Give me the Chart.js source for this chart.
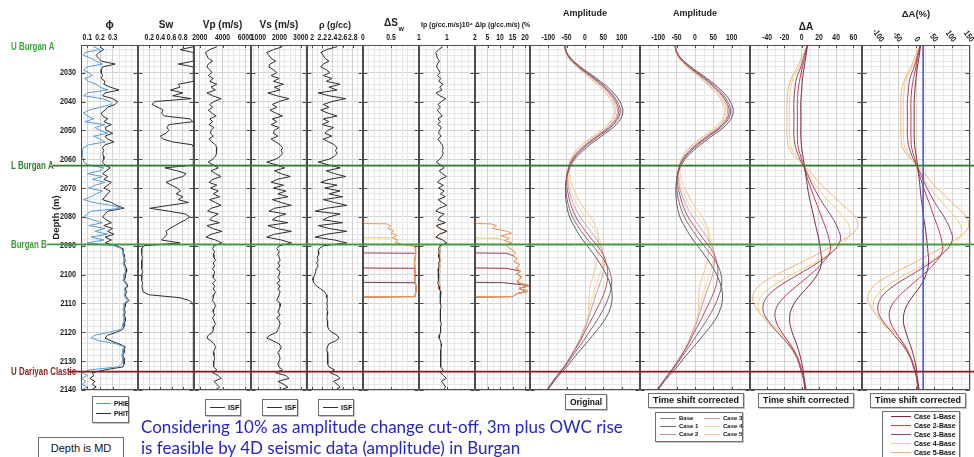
<!DOCTYPE html>
<html>
<head>
<meta charset="utf-8">
<script src="https://cdn.jsdelivr.net/npm/chart.js@4.4.1/dist/chart.umd.min.js"></script>
<style>
  body { margin: 0; background: #fff; }
  #wrap { position: relative; width: 974px; height: 457px; overflow: hidden;
          font-family: "Liberation Sans", Arial, sans-serif; }
  #logs { position: absolute; left: 0; top: 0; }
  .box { position: absolute; box-sizing: border-box; background: #fff; border: 1px solid #6f6f6f;
         box-shadow: 1px 1px 0 #c4c4c4; font-weight: bold; color: #111; white-space: nowrap; }
  .row { position: absolute; display: flex; align-items: center; }
  .ln { display: inline-block; height: 1px; margin-right: 3px; }
  .cap { text-align: center; font-size: 9px; line-height: 13px; }
  .note { position: absolute; left: 141px; top: 416px; font-family: Lato, "Open Sans", sans-serif;
          font-size: 17px; line-height: 21px; color: #2525c4; white-space: nowrap; }
  .md { font-weight: normal; font-size: 11px; line-height: 20px; text-align: center; box-shadow: none; }
</style>
</head>
<body>
<div id="wrap">
  <canvas id="logs" width="974" height="457"></canvas>

  <div class="box" style="left:92px;top:396px;width:37px;height:27px;font-size:6.5px">
    <div class="row" style="left:3px;top:3px"><span class="ln" style="width:15px;background:#5b9bd0"></span>PHIE</div>
    <div class="row" style="left:3px;top:13px"><span class="ln" style="width:15px;background:#333"></span>PHIT</div>
  </div>
  <div class="box" style="left:205px;top:399px;width:36px;height:17px;font-size:7.5px">
    <div class="row" style="left:4px;top:3px"><span class="ln" style="width:15px;background:#333"></span>ISF</div>
  </div>
  <div class="box" style="left:262px;top:399px;width:36px;height:17px;font-size:7.5px">
    <div class="row" style="left:4px;top:3px"><span class="ln" style="width:15px;background:#333"></span>ISF</div>
  </div>
  <div class="box" style="left:318px;top:399px;width:36px;height:17px;font-size:7.5px">
    <div class="row" style="left:4px;top:3px"><span class="ln" style="width:15px;background:#333"></span>ISF</div>
  </div>

  <div class="box cap" style="left:565px;top:394px;width:42px;height:16px;font-size:8.5px;line-height:14px">Original</div>
  <div class="box cap" style="left:648px;top:393px;width:96px;height:15px">Time shift corrected</div>
  <div class="box cap" style="left:758px;top:393px;width:96px;height:15px">Time shift corrected</div>
  <div class="box cap" style="left:870px;top:393px;width:96px;height:15px">Time shift corrected</div>

  <div class="box" style="left:655px;top:412px;width:88px;height:30px;font-size:6px">
    <div class="row" style="left:4px;top:2px"><span class="ln" style="width:16px;background:#8a7a8c"></span>Base</div>
    <div class="row" style="left:4px;top:10px"><span class="ln" style="width:16px;background:#85627f"></span>Case 1</div>
    <div class="row" style="left:4px;top:18px"><span class="ln" style="width:16px;background:#c98a9a"></span>Case 2</div>
    <div class="row" style="left:48px;top:2px"><span class="ln" style="width:16px;background:#c99aae"></span>Case 3</div>
    <div class="row" style="left:48px;top:10px"><span class="ln" style="width:16px;background:#eedb95"></span>Case 4</div>
    <div class="row" style="left:48px;top:18px"><span class="ln" style="width:16px;background:#f4c39d"></span>Case 5</div>
  </div>

  <div class="box" style="left:882px;top:411px;width:78px;height:52px;font-size:7px">
    <div class="row" style="left:8px;top:1px"><span class="ln" style="width:20px;background:#7a2946"></span>Case 1-Base</div>
    <div class="row" style="left:8px;top:10px"><span class="ln" style="width:20px;background:#c9374a"></span>Case 2-Base</div>
    <div class="row" style="left:8px;top:19px"><span class="ln" style="width:20px;background:#93476f"></span>Case 3-Base</div>
    <div class="row" style="left:8px;top:28px"><span class="ln" style="width:20px;background:#f0d37a"></span>Case 4-Base</div>
    <div class="row" style="left:8px;top:37px"><span class="ln" style="width:20px;background:#f2b27f"></span>Case 5-Base</div>
  </div>

  <div class="box md" style="left:38px;top:437px;width:86px;height:23px">Depth is MD</div>
  <div class="note">Considering 10% as amplitude change cut-off, 3m plus OWC rise<br>is feasible by 4D seismic data (amplitude) in Burgan</div>
</div>

<script>
// ---- depth axis ----
const DEPTH_MIN = 2020.4;
const DEPTH_MAX = 2140;
const DEPTH_TICKS = [2030, 2040, 2050, 2060, 2070, 2080, 2090, 2100, 2110, 2120, 2130, 2140];

// ---- formation tops ----
const TOP_NAMES = ['U Burgan A', 'L Burgan A', 'Burgan B', 'U Dariyan Clastic'];
const TOP_DEPTHS = [2020.9, 2062.2, 2089.5, 2133.6];

// ---- well logs, 1 m samples ----
const LOG_DEPTH = [
  2021, 2022, 2023, 2024, 2025, 2026, 2027, 2028, 2029, 2030,
  2031, 2032, 2033, 2034, 2035, 2036, 2037, 2038, 2039, 2040,
  2041, 2042, 2043, 2044, 2045, 2046, 2047, 2048, 2049, 2050,
  2051, 2052, 2053, 2054, 2055, 2056, 2057, 2058, 2059, 2060,
  2061, 2062, 2063, 2064, 2065, 2066, 2067, 2068, 2069, 2070,
  2071, 2072, 2073, 2074, 2075, 2076, 2077, 2078, 2079, 2080,
  2081, 2082, 2083, 2084, 2085, 2086, 2087, 2088, 2089, 2090,
  2091, 2092, 2093, 2094, 2095, 2096, 2097, 2098, 2099, 2100,
  2101, 2102, 2103, 2104, 2105, 2106, 2107, 2108, 2109, 2110,
  2111, 2112, 2113, 2114, 2115, 2116, 2117, 2118, 2119, 2120,
  2121, 2122, 2123, 2124, 2125, 2126, 2127, 2128, 2129, 2130,
  2131, 2132, 2133, 2134, 2135, 2136, 2137, 2138, 2139, 2140
];
const PHIT = [
  0.20, 0.23, 0.19, 0.17, 0.19, 0.21, 0.32, 0.22, 0.21, 0.21,
  0.22, 0.21, 0.24, 0.23, 0.28, 0.35, 0.24, 0.22, 0.30, 0.34,
  0.32, 0.26, 0.24, 0.21, 0.22, 0.26, 0.23, 0.29, 0.24, 0.25,
  0.30, 0.24, 0.26, 0.31, 0.24, 0.22, 0.23, 0.22, 0.23, 0.23,
  0.22, 0.24, 0.28, 0.25, 0.22, 0.26, 0.23, 0.29, 0.26, 0.23,
  0.28, 0.26, 0.24, 0.22, 0.29, 0.33, 0.39, 0.26, 0.24, 0.22,
  0.25, 0.29, 0.23, 0.30, 0.26, 0.31, 0.24, 0.29, 0.24, 0.33,
  0.38, 0.38, 0.39, 0.39, 0.40, 0.39, 0.40, 0.41, 0.41, 0.40,
  0.40, 0.39, 0.41, 0.42, 0.40, 0.41, 0.40, 0.41, 0.43, 0.40,
  0.40, 0.39, 0.40, 0.39, 0.40, 0.40, 0.39, 0.39, 0.38, 0.33,
  0.26, 0.24, 0.29, 0.35, 0.40, 0.39, 0.39, 0.38, 0.39, 0.39,
  0.39, 0.38, 0.24, 0.14, 0.15, 0.12, 0.16, 0.14, 0.17, 0.13
];
const PHIE = [
  0.15, 0.20, 0.08, 0.07, 0.13, 0.17, 0.22, 0.10, 0.07, 0.11,
  0.14, 0.08, 0.11, 0.17, 0.20, 0.26, 0.10, 0.07, 0.22, 0.28,
  0.29, 0.20, 0.11, 0.07, 0.10, 0.15, 0.08, 0.24, 0.16, 0.20,
  0.26, 0.15, 0.20, 0.24, 0.11, 0.07, 0.06, 0.06, 0.06, 0.07,
  0.07, 0.11, 0.23, 0.20, 0.10, 0.22, 0.14, 0.24, 0.16, 0.11,
  0.22, 0.17, 0.13, 0.07, 0.15, 0.29, 0.37, 0.13, 0.10, 0.07,
  0.14, 0.22, 0.11, 0.24, 0.16, 0.26, 0.13, 0.23, 0.10, 0.31,
  0.37, 0.38, 0.38, 0.39, 0.39, 0.38, 0.39, 0.40, 0.40, 0.39,
  0.39, 0.38, 0.40, 0.41, 0.39, 0.40, 0.39, 0.40, 0.42, 0.39,
  0.39, 0.38, 0.39, 0.38, 0.39, 0.39, 0.38, 0.38, 0.36, 0.27,
  0.16, 0.13, 0.20, 0.33, 0.39, 0.38, 0.38, 0.37, 0.38, 0.38,
  0.37, 0.34, 0.12, 0.06, 0.10, 0.05, 0.09, 0.06, 0.10, 0.05
];
const SW = [
  0.99, 0.75, 0.99, 0.99, 0.99, 0.99, 0.72, 0.99, 0.99, 0.99,
  0.99, 0.99, 0.99, 0.72, 0.75, 0.58, 0.80, 0.62, 0.95, 0.30,
  0.25, 0.36, 0.45, 0.42, 0.47, 0.93, 0.98, 0.55, 0.52, 0.55,
  0.50, 0.40, 0.45, 0.62, 0.97, 0.99, 0.99, 0.99, 0.99, 0.99,
  0.99, 0.99, 0.48, 0.70, 0.86, 0.80, 0.62, 0.50, 0.60, 0.70,
  0.76, 0.68, 0.80, 0.72, 0.90, 0.55, 0.21, 0.55, 0.85, 0.92,
  0.85, 0.75, 0.66, 0.57, 0.50, 0.52, 0.47, 0.42, 0.75, 0.10,
  0.07, 0.06, 0.07, 0.08, 0.07, 0.06, 0.07, 0.07, 0.08, 0.07,
  0.07, 0.06, 0.08, 0.07, 0.08, 0.09, 0.20, 0.75, 0.92, 0.98,
  0.99, 0.99, 0.99, 0.99, 0.99, 0.99, 0.99, 0.99, 0.99, 0.99,
  0.99, 0.99, 0.99, 0.99, 0.99, 0.99, 0.99, 0.99, 0.99, 0.99,
  0.99, 0.99, 0.99, 0.99, 0.99, 0.99, 0.99, 0.99, 0.99, 0.99
];
const VP = [
  3500, 2880, 2500, 2630, 2750, 3130, 2750, 2630, 2880, 3060,
  2750, 3190, 2880, 3500, 3000, 3380, 2630, 3130, 3880, 3250,
  2880, 3130, 2750, 3060, 3440, 2880, 3130, 2810, 3250, 3000,
  2940, 3190, 2810, 3060, 3380, 3500, 3440, 3500, 3380, 3130,
  2750, 3190, 3630, 3000, 3380, 3880, 3130, 2810, 3500, 2940,
  3630, 3190, 3750, 2880, 3380, 3880, 3000, 2690, 3630, 3130,
  2880, 3750, 2630, 3130, 3940, 3000, 2560, 3380, 3940, 3250,
  3130, 3310, 3190, 3250, 3380, 3190, 3310, 3130, 3310, 3250,
  3190, 3380, 3130, 3310, 3190, 3380, 3250, 3190, 3130, 3310,
  3380, 3250, 3190, 3310, 3130, 3250, 3380, 3250, 3190, 3130,
  2750, 2630, 3000, 3250, 3380, 3310, 3190, 3250, 3310, 3250,
  3190, 3250, 3500, 3130, 3630, 3880, 3250, 3500, 3750, 3380
];
const VS = [
  2140, 1710, 1390, 1500, 1600, 1820, 1550, 1500, 1710, 1870,
  1600, 1980, 1710, 2190, 1760, 2030, 1450, 1870, 2450, 1980,
  1660, 1870, 1550, 1820, 2140, 1660, 1870, 1600, 1980, 1760,
  1710, 1920, 1600, 1820, 2030, 2140, 2080, 2140, 2030, 1820,
  1390, 1870, 2240, 1760, 2080, 2510, 1870, 1600, 2190, 1710,
  2300, 1920, 2400, 1660, 2080, 2560, 1760, 1500, 2300, 1870,
  1660, 2400, 1450, 1870, 2560, 1760, 1390, 2080, 2560, 1980,
  1870, 1980, 1920, 1980, 2030, 1920, 2030, 1870, 2030, 1980,
  1920, 2030, 1870, 2030, 1920, 2030, 1980, 1920, 1870, 2030,
  2030, 1980, 1920, 2030, 1870, 1980, 2030, 1980, 1920, 1870,
  1550, 1390, 1710, 1980, 2080, 2030, 1920, 1980, 2030, 1980,
  1920, 1980, 2140, 1820, 2300, 2450, 1920, 2190, 2400, 2030
];
const RHO = [
  2.49, 2.28, 2.17, 2.22, 2.25, 2.33, 2.22, 2.17, 2.28, 2.35,
  2.22, 2.39, 2.28, 2.55, 2.33, 2.49, 2.12, 2.33, 2.66, 2.39,
  2.22, 2.33, 2.17, 2.31, 2.49, 2.22, 2.33, 2.20, 2.42, 2.31,
  2.25, 2.39, 2.22, 2.33, 2.44, 2.49, 2.46, 2.49, 2.44, 2.33,
  2.12, 2.33, 2.55, 2.28, 2.44, 2.66, 2.33, 2.17, 2.49, 2.25,
  2.55, 2.33, 2.60, 2.22, 2.44, 2.68, 2.28, 2.06, 2.55, 2.33,
  2.22, 2.60, 2.12, 2.33, 2.68, 2.28, 2.06, 2.44, 2.68, 2.22,
  2.14, 2.12, 2.13, 2.10, 2.12, 2.09, 2.12, 2.08, 2.07, 2.05,
  2.03, 2.02, 2.04, 2.09, 2.17, 2.25, 2.28, 2.29, 2.30, 2.29,
  2.30, 2.29, 2.31, 2.30, 2.29, 2.30, 2.31, 2.30, 2.33, 2.39,
  2.49, 2.53, 2.46, 2.33, 2.30, 2.29, 2.30, 2.31, 2.30, 2.31,
  2.31, 2.33, 2.44, 2.35, 2.49, 2.55, 2.42, 2.49, 2.55, 2.46
];
const IP = [
  0.85, 0.70, 0.60, 0.63, 0.66, 0.73, 0.66, 0.62, 0.70, 0.75,
  0.66, 0.78, 0.70, 0.86, 0.74, 0.82, 0.61, 0.74, 0.95, 0.80,
  0.68, 0.76, 0.65, 0.74, 0.83, 0.68, 0.76, 0.67, 0.80, 0.73,
  0.70, 0.79, 0.67, 0.75, 0.83, 0.86, 0.84, 0.86, 0.82, 0.74,
  0.62, 0.77, 0.90, 0.72, 0.83, 0.98, 0.76, 0.66, 0.87, 0.70,
  0.90, 0.77, 0.94, 0.68, 0.83, 0.99, 0.72, 0.60, 0.90, 0.75,
  0.68, 0.94, 0.61, 0.75, 0.99, 0.72, 0.60, 0.84, 0.99, 0.75,
  0.70, 0.72, 0.70, 0.71, 0.74, 0.70, 0.72, 0.68, 0.71, 0.69,
  0.68, 0.70, 0.67, 0.72, 0.72, 0.78, 0.76, 0.76, 0.75, 0.78,
  0.79, 0.77, 0.76, 0.78, 0.75, 0.77, 0.80, 0.77, 0.77, 0.77,
  0.73, 0.72, 0.77, 0.79, 0.80, 0.78, 0.76, 0.78, 0.78, 0.78,
  0.76, 0.78, 0.86, 0.76, 0.88, 0.97, 0.80, 0.88, 0.95, 0.85
];
// Ip after the largest OWC rise, over the flushed interval only
const IP_CASE_DEPTH = [
  2082, 2083, 2084, 2085, 2086, 2087, 2088, 2089, 2090, 2091, 2092, 2093, 2094, 2095,
  2096, 2097, 2098, 2099, 2100, 2101, 2102, 2103, 2104, 2105, 2106, 2107, 2108
];
const IP_CASE5 = [
  0.95, 0.63, 0.77, 1.00, 0.74, 0.62, 0.86, 1.00, 0.79, 0.75, 0.77, 0.74, 0.76, 0.79,
  0.74, 0.77, 0.73, 0.76, 0.73, 0.73, 0.75, 0.72, 0.77, 0.76, 0.80, 0.77, 0.76
];

// ---- change in water saturation per OWC-rise case ----
const DSW_DEPTH_C1 = [2020.4, 2102.7, 2102.8, 2105, 2107.6, 2107.7, 2140];
const DSW_C1 = [0, 0, 0.93, 0.95, 0.93, 0, 0];
const DSW_DEPTH_C2 = [2020.4, 2097.7, 2097.8, 2099, 2102, 2105, 2107.6, 2107.7, 2140];
const DSW_C2 = [0, 0, 0.93, 0.94, 0.93, 0.95, 0.93, 0, 0];
const DSW_DEPTH_C3 = [2020.4, 2092.5, 2092.6, 2096, 2099, 2102, 2105, 2107.6, 2107.7, 2140];
const DSW_C3 = [0, 0, 0.94, 0.92, 0.94, 0.93, 0.95, 0.93, 0, 0];
const DSW_DEPTH_C4 = [2020.4, 2087.2, 2087.3, 2088, 2088.8, 2089.5, 2090.2, 2093, 2096, 2099, 2102, 2105, 2107.6, 2107.7, 2140];
const DSW_C4 = [0, 0, 0.55, 0.62, 0.58, 0.68, 0.93, 0.94, 0.92, 0.94, 0.93, 0.95, 0.93, 0, 0];
const DSW_DEPTH_C5 = [2020.4, 2082.3, 2082.4, 2083.2, 2084, 2084.8, 2085.6, 2086.4, 2087.2, 2088, 2088.8, 2089.5, 2090.2, 2093, 2096, 2099, 2102, 2105, 2107.6, 2107.7, 2140];
const DSW_C5 = [0, 0, 0.42, 0.50, 0.44, 0.55, 0.50, 0.60, 0.53, 0.62, 0.58, 0.68, 0.93, 0.94, 0.92, 0.94, 0.93, 0.95, 0.93, 0, 0];

// ---- change in acoustic impedance (%) per case ----
const DIP_DEPTH_C5 = [2020.4, 2082.3, 2082.4, 2083, 2084, 2085, 2085.7, 2086.5, 2087.4, 2088.2, 2089, 2089.7, 2090.5, 2091.5, 2092.6, 2093.5, 2094.5, 2095.5, 2096.5, 2097.8, 2098.8, 2099.8, 2100.8, 2101.8, 2102.8, 2103.8, 2104.8, 2105.8, 2106.6, 2107.6, 2107.7, 2140];
const DIP_C5 = [0, 0, 6.3, 8.6, 7.0, 13.0, 14.7, 10.3, 13.8, 11.9, 14.6, 12.4, 13.2, 15.1, 16.2, 15.3, 16.8, 15.7, 17.8, 16.4, 18.1, 16.7, 18.6, 17.3, 17.1, 21.6, 17.6, 21.0, 16.7, 15.3, 0, 0];
const DIP_DEPTH_C4 = [2020.4, 2087.3, 2087.4, 2088.2, 2089, 2089.7, 2090.5, 2091.5, 2092.6, 2093.5, 2094.5, 2095.5, 2096.5, 2097.8, 2098.8, 2099.8, 2100.8, 2101.8, 2102.8, 2103.8, 2104.8, 2105.8, 2106.6, 2107.6, 2107.7, 2140];
const DIP_C4 = [0, 0, 8.8, 11.9, 14.6, 12.4, 13.2, 15.1, 16.2, 15.3, 16.8, 15.7, 17.8, 16.4, 18.1, 16.7, 18.6, 17.3, 17.1, 21.6, 17.6, 21.0, 16.7, 15.3, 0, 0];
const DIP_DEPTH_C3 = [2020.4, 2092.5, 2092.6, 2093.5, 2094.5, 2095.5, 2096.5, 2097.8, 2098.8, 2099.8, 2100.8, 2101.8, 2102.8, 2103.8, 2104.8, 2105.8, 2106.6, 2107.6, 2107.7, 2140];
const DIP_C3 = [0, 0, 12.7, 15.3, 16.8, 15.7, 17.8, 16.4, 18.1, 16.7, 18.6, 17.3, 17.1, 21.6, 17.6, 21.0, 16.7, 15.3, 0, 0];
const DIP_DEPTH_C2 = [2020.4, 2097.7, 2097.8, 2098.8, 2099.8, 2100.8, 2101.8, 2102.8, 2103.8, 2104.8, 2105.8, 2106.6, 2107.6, 2107.7, 2140];
const DIP_C2 = [0, 0, 12.5, 18.1, 16.7, 18.6, 17.3, 17.1, 21.6, 17.6, 21.0, 16.7, 15.3, 0, 0];
const DIP_DEPTH_C1 = [2020.4, 2102.7, 2102.8, 2103.8, 2104.8, 2105.8, 2106.6, 2107.6, 2107.7, 2140];
const DIP_C1 = [0, 0, 11.5, 21.6, 17.6, 21.0, 16.7, 15.3, 0, 0];

// ---- synthetic amplitude traces, 4 m samples ----
const AMP_DEPTH = [
  2020, 2024, 2028, 2032, 2036, 2040, 2044, 2048, 2052, 2056, 2060, 2064, 2068, 2072, 2076, 2080,
  2084, 2088, 2092, 2096, 2100, 2104, 2108, 2112, 2116, 2120, 2124, 2128, 2132, 2136, 2140
];
const AMP_BASE  = [-58, -45, -12, 32, 70, 95, 103, 85, 45, 4, -28, -45, -52, -53, -50, -42, -26, -6, 18, 40, 58, 70, 74, 68, 52, 28, 2, -25, -50, -78, -102];
const AMP_CASE1 = [-57, -46, -15, 27, 64, 88, 96, 78, 38, -2, -32, -47, -52, -51, -45, -34, -15, 8, 34, 57, 70, 72, 64, 50, 32, 11, -10, -33, -55, -81, -103];
const AMP_CASE2 = [-57, -47, -17, 24, 60, 84, 92, 74, 34, -6, -34, -47, -50, -46, -38, -25, -4, 20, 45, 58, 62, 58, 47, 32, 16, -1, -18, -37, -57, -82, -104];
const AMP_CASE3 = [-57, -48, -19, 20, 56, 80, 88, 70, 30, -9, -36, -46, -47, -41, -30, -13, 10, 33, 48, 52, 48, 38, 27, 17, 7, -6, -20, -38, -58, -82, -104];
const AMP_CASE4 = [-57, -49, -21, 16, 51, 75, 83, 65, 25, -14, -38, -45, -44, -35, -20, 0, 24, 40, 48, 48, 40, 30, 20, 12, 4, -7, -20, -38, -58, -82, -104];
const AMP_CASE5 = [-57, -50, -23, 14, 48, 72, 80, 62, 22, -17, -39, -42, -38, -25, -8, 14, 32, 36, 36, 32, 23, 14, 11, 10, 7, -3, -17, -37, -58, -82, -104];

// same traces after time-shift correction
const AMPT_BASE  = [-57, -44, -11, 33, 71, 96, 104, 86, 46, 5, -27, -44, -51, -52, -49, -41, -25, -5, 19, 41, 59, 71, 75, 69, 53, 29, 3, -24, -49, -77, -101];
const AMPT_CASE1 = [-56, -45, -14, 28, 65, 89, 97, 79, 39, -1, -31, -46, -50, -48, -41, -29, -10, 12, 37, 59, 71, 72, 63, 49, 31, 10, -11, -33, -55, -80, -102];
const AMPT_CASE2 = [-56, -46, -16, 25, 61, 85, 93, 75, 35, -5, -33, -46, -48, -42, -33, -19, 2, 25, 48, 60, 62, 57, 45, 30, 15, -2, -18, -37, -57, -81, -103];
const AMPT_CASE3 = [-56, -47, -18, 21, 57, 81, 89, 71, 31, -8, -35, -45, -44, -37, -24, -6, 16, 37, 51, 53, 48, 37, 26, 16, 6, -7, -20, -38, -58, -82, -104];
const AMPT_CASE4 = [-56, -48, -20, 17, 52, 76, 84, 66, 26, -13, -37, -44, -41, -30, -14, 7, 29, 43, 50, 48, 39, 29, 19, 11, 3, -8, -20, -38, -58, -82, -104];
const AMPT_CASE5 = [-56, -49, -22, 15, 49, 73, 81, 63, 23, -16, -38, -41, -35, -20, -2, 19, 35, 38, 37, 32, 22, 13, 10, 9, 6, -4, -17, -37, -58, -82, -104];

// amplitude difference, case minus base
const DA_CASE1 = [7, 5, 3, 1, 0, -1, -1, -1, -1, 0, 2, 4, 6, 8, 11, 14, 17, 20, 22, 23, 18, 8, -4, -12, -14, -11, -6, -2, 1, 3, 5];
const DA_CASE2 = [7, 4, 1, -2, -4, -5, -5, -5, -5, -4, 0, 4, 8, 13, 18, 23, 28, 32, 33, 24, 10, -6, -21, -30, -30, -23, -14, -6, -1, 2, 4];
const DA_CASE3 = [7, 3, -1, -6, -8, -9, -9, -9, -9, -7, -2, 5, 11, 18, 26, 35, 42, 45, 36, 18, -4, -26, -41, -45, -39, -28, -16, -7, -2, 2, 4];
const DA_CASE4 = [7, 2, -3, -10, -13, -14, -14, -14, -14, -12, -4, 6, 14, 24, 36, 48, 56, 52, 36, 14, -12, -34, -48, -50, -42, -29, -16, -7, -2, 2, 4];
const DA_CASE5 = [7, 1, -5, -12, -16, -17, -17, -17, -17, -15, -5, 9, 20, 34, 48, 62, 64, 48, 24, -2, -29, -50, -57, -52, -39, -25, -13, -6, -2, 2, 4];

// amplitude difference in percent
const DAP_CASE1 = [13, 9, 4, 0, -3, -5, -5, -5, -5, -3, 2, 6, 10, 13, 17, 21, 26, 30, 33, 35, 28, 12, -12, -30, -35, -28, -17, -7, 0, 4, 9];
const DAP_CASE2 = [13, 6, 0, -7, -12, -14, -14, -14, -14, -12, -3, 6, 16, 27, 39, 50, 62, 71, 73, 52, 20, -17, -51, -72, -72, -56, -35, -17, -5, 2, 6];
const DAP_CASE3 = [13, 4, -5, -17, -21, -24, -24, -24, -24, -19, -7, 9, 23, 39, 57, 78, 94, 101, 80, 39, -12, -63, -97, -106, -93, -67, -40, -19, -7, 2, 6];
const DAP_CASE4 = [13, 2, -10, -26, -33, -35, -35, -35, -35, -30, -12, 11, 29, 52, 80, 108, 126, 117, 80, 29, -30, -81, -113, -118, -99, -70, -40, -19, -7, 2, 6];
const DAP_CASE5 = [13, -1, -14, -30, -40, -42, -42, -42, -42, -37, -14, 18, 43, 75, 108, 140, 144, 108, 52, -7, -70, -118, -134, -122, -93, -60, -33, -17, -7, 2, 6];
const DAP_CUTOFF = 20;

// ---- track tick labels ----
const PHI_TICKS = [0.1, 0.2, 0.3];
const SW_TICKS = [0.2, 0.4, 0.6, 0.8];
const VP_TICKS = [2000, 4000, 6000];
const VS_TICKS = [1000, 2000, 3000];
const RHO_TICKS = [2, 2.2, 2.4, 2.6, 2.8];
const DSW_TICKS = [0, 0.5, 1];
const IP_TICKS = [1, 2];
const DIP_TICKS = [5, 10, 15, 20];
const AMP_TICKS = [-100, -50, 0, 50, 100];
const DA_TICKS = [-40, -20, 0, 20, 40, 60];
const DAP_TICKS = [-100, -50, 0, 50, 100, 150];

// ---- styling ----
const SANS = '"Liberation Sans", Arial, sans-serif';
const SQUEEZE = 0.8;              // horizontal squeeze for the narrow axis lettering
const INK = '#1b1b1b';
const LOG_INK = '#2e2e2e';
const PHIE_BLUE = '#5b9bd0';
const CASE_COLORS = ['#6e3a55', '#b8323f', '#9c3a5c', '#f0c850', '#e8955f'];
const AMP_COLORS = { base: '#5e5e5e', c1: '#85627f', c2: '#b4525e', c3: '#c99aae', c4: '#eedb95', c5: '#f4c39d' };
const DA_COLORS = ['#7a2946', '#c9374a', '#93476f', '#f0d37a', '#f2b27f'];
const TOP_COLORS = ['#3aa33a', '#2f7d32', '#3d9a3d', '#8b1d1d'];
const TOP_LINE_START = [null, 53, 47, 68];
const TRACK_IDS = ['xPhi', 'xSw', 'xVp', 'xVs', 'xRho', 'xDsw', 'xIp', 'xDip', 'xAmp', 'xAmpT', 'xDA', 'xDAP'];
const TRACK_LABELS = {};

function gridTicks(min, max, step, labels) {
  const out = [];
  const first = Math.ceil(min / step - 1e-9);
  const last = Math.floor(max / step + 1e-9);
  for (let k = first; k <= last; k++) out.push(+(k * step).toFixed(6));
  labels.forEach(v => { if (!out.some(t => Math.abs(t - v) < 1e-6)) out.push(v); });
  return out.sort((a, b) => a - b).map(value => ({ value }));
}
const isLabel = (v, labels) => labels.some(l => Math.abs(l - v) < 1e-6);

// top stacked axes are laid out highest weight first, so weight runs down left to right
function trackAxis(id, o) {
  TRACK_LABELS[id] = o.labels;
  return {
    type: 'linear', position: 'top', stack: 'tracks', stackWeight: o.width,
    weight: TRACK_IDS.length - TRACK_IDS.indexOf(id),
    min: o.min, max: o.max,
    afterFit: s => { s.height = 45; s.paddingLeft = 0; s.paddingRight = 0; },
    afterBuildTicks: s => { s.ticks = gridTicks(o.min, o.max, o.step, o.labels); },
    grid: { drawTicks: false, lineWidth: 1,
            color: c => isLabel(c.tick.value, o.labels) ? '#d3d3d3' : '#e8e8e8' },
    border: { display: false },
    ticks: { display: false, autoSkip: false },
    title: { display: true, text: o.title, color: INK,
             font: { family: SANS, size: o.titleSize || 10, weight: 'bold' },
             padding: { top: o.titleTop, bottom: 0 } }
  };
}

const pts = (xs, depths) => depths.map((d, i) => ({ x: xs[i], y: d }));
const line = (label, xAxisID, data, color, extra) => Object.assign({
  label, xAxisID, yAxisID: 'y', data, borderColor: color, borderWidth: 1,
  pointRadius: 0, tension: 0, fill: false
}, extra || {});
const smooth = { tension: 0.4 };

const datasets = [
  line('PHIE', 'xPhi', pts(PHIE, LOG_DEPTH), PHIE_BLUE),
  line('PHIT', 'xPhi', pts(PHIT, LOG_DEPTH), LOG_INK),
  line('Sw', 'xSw', pts(SW, LOG_DEPTH), LOG_INK),
  line('Vp', 'xVp', pts(VP, LOG_DEPTH), LOG_INK),
  line('Vs', 'xVs', pts(VS, LOG_DEPTH), LOG_INK),
  line('Rho', 'xRho', pts(RHO, LOG_DEPTH), LOG_INK),
  // saturation change, largest rise on top
  line('dSw Case 5', 'xDsw', pts(DSW_C5, DSW_DEPTH_C5), CASE_COLORS[4]),
  line('dSw Case 4', 'xDsw', pts(DSW_C4, DSW_DEPTH_C4), CASE_COLORS[3]),
  line('dSw Case 3', 'xDsw', pts(DSW_C3, DSW_DEPTH_C3), CASE_COLORS[2]),
  line('dSw Case 2', 'xDsw', pts(DSW_C2, DSW_DEPTH_C2), CASE_COLORS[1]),
  line('dSw Case 1', 'xDsw', pts(DSW_C1, DSW_DEPTH_C1), CASE_COLORS[0]),
  // impedance
  line('Ip', 'xIp', pts(IP, LOG_DEPTH), LOG_INK),
  line('Ip Case 5', 'xIp', pts(IP_CASE5, IP_CASE_DEPTH), '#e6a27a'),
  line('dIp Case 5', 'xDip', pts(DIP_C5, DIP_DEPTH_C5), CASE_COLORS[4]),
  line('dIp Case 4', 'xDip', pts(DIP_C4, DIP_DEPTH_C4), CASE_COLORS[3]),
  line('dIp Case 3', 'xDip', pts(DIP_C3, DIP_DEPTH_C3), CASE_COLORS[2]),
  line('dIp Case 2', 'xDip', pts(DIP_C2, DIP_DEPTH_C2), CASE_COLORS[1]),
  line('dIp Case 1', 'xDip', pts(DIP_C1, DIP_DEPTH_C1), CASE_COLORS[0]),
  // amplitude, original
  line('Case 2', 'xAmp', pts(AMP_CASE2, AMP_DEPTH), AMP_COLORS.c2, smooth),
  line('Base', 'xAmp', pts(AMP_BASE, AMP_DEPTH), AMP_COLORS.base, smooth),
  line('Case 1', 'xAmp', pts(AMP_CASE1, AMP_DEPTH), AMP_COLORS.c1, smooth),
  line('Case 3', 'xAmp', pts(AMP_CASE3, AMP_DEPTH), AMP_COLORS.c3, smooth),
  line('Case 4', 'xAmp', pts(AMP_CASE4, AMP_DEPTH), AMP_COLORS.c4, smooth),
  line('Case 5', 'xAmp', pts(AMP_CASE5, AMP_DEPTH), AMP_COLORS.c5, smooth),
  // amplitude, time shift corrected
  line('Case 2 TSC', 'xAmpT', pts(AMPT_CASE2, AMP_DEPTH), AMP_COLORS.c2, smooth),
  line('Base TSC', 'xAmpT', pts(AMPT_BASE, AMP_DEPTH), AMP_COLORS.base, smooth),
  line('Case 1 TSC', 'xAmpT', pts(AMPT_CASE1, AMP_DEPTH), AMP_COLORS.c1, smooth),
  line('Case 3 TSC', 'xAmpT', pts(AMPT_CASE3, AMP_DEPTH), AMP_COLORS.c3, smooth),
  line('Case 4 TSC', 'xAmpT', pts(AMPT_CASE4, AMP_DEPTH), AMP_COLORS.c4, smooth),
  line('Case 5 TSC', 'xAmpT', pts(AMPT_CASE5, AMP_DEPTH), AMP_COLORS.c5, smooth),
  // amplitude differences
  line('dA Case 1', 'xDA', pts(DA_CASE1, AMP_DEPTH), DA_COLORS[0], smooth),
  line('dA Case 2', 'xDA', pts(DA_CASE2, AMP_DEPTH), DA_COLORS[1], smooth),
  line('dA Case 3', 'xDA', pts(DA_CASE3, AMP_DEPTH), DA_COLORS[2], smooth),
  line('dA Case 4', 'xDA', pts(DA_CASE4, AMP_DEPTH), DA_COLORS[3], smooth),
  line('dA Case 5', 'xDA', pts(DA_CASE5, AMP_DEPTH), DA_COLORS[4], smooth),
  line('cut-off', 'xDAP', [{ x: DAP_CUTOFF, y: DEPTH_MIN }, { x: DAP_CUTOFF, y: DEPTH_MAX }], '#4b5be0'),
  line('dA% Case 1', 'xDAP', pts(DAP_CASE1, AMP_DEPTH), DA_COLORS[0], smooth),
  line('dA% Case 2', 'xDAP', pts(DAP_CASE2, AMP_DEPTH), DA_COLORS[1], smooth),
  line('dA% Case 3', 'xDAP', pts(DAP_CASE3, AMP_DEPTH), DA_COLORS[2], smooth),
  line('dA% Case 4', 'xDAP', pts(DAP_CASE4, AMP_DEPTH), DA_COLORS[3], smooth),
  line('dA% Case 5', 'xDAP', pts(DAP_CASE5, AMP_DEPTH), DA_COLORS[4], smooth)
];

function squeezedText(ctx, text, x, y, align, sx) {
  ctx.save();
  ctx.translate(x, y);
  ctx.scale(sx || SQUEEZE, 1);
  ctx.textAlign = align;
  ctx.fillText(text, 0, 0);
  ctx.restore();
}

// frames, tick labels, formation tops and the rotated ΔA(%) labels
const trackFrame = {
  id: 'trackFrame',
  afterDatasetsDraw(chart) {
    const { ctx, chartArea: a, scales } = chart;
    const y = scales.y;
    ctx.save();
    ctx.strokeStyle = '#4d4d4d';
    ctx.lineWidth = 1;
    TRACK_IDS.forEach(id => {
      const s = scales[id];
      const l = Math.round(s.left) + 0.5, r = Math.round(s.right) - 0.5;
      ctx.strokeRect(l, Math.round(a.top) + 0.5, r - l, Math.round(a.bottom - a.top) - 1);
      ctx.beginPath();
      DEPTH_TICKS.forEach(d => {
        const py = Math.round(y.getPixelForValue(d)) + 0.5;
        ctx.moveTo(l, py); ctx.lineTo(l + 4, py);
        ctx.moveTo(r - 4, py); ctx.lineTo(r, py);
      });
      TRACK_LABELS[id].forEach(v => {
        const px = Math.round(s.getPixelForValue(v)) + 0.5;
        if (px <= l + 1 || px >= r - 1) return;
        ctx.moveTo(px, a.top); ctx.lineTo(px, a.top + 3);
        ctx.moveTo(px, a.bottom); ctx.lineTo(px, a.bottom - 3);
      });
      ctx.stroke();
    });

    // value labels along the top of each track
    ctx.fillStyle = INK;
    ctx.font = 'bold 8.5px ' + SANS;
    ctx.textBaseline = 'middle';
    TRACK_IDS.forEach(id => {
      if (id === 'xDAP') return;
      const s = scales[id];
      TRACK_LABELS[id].forEach(v => squeezedText(ctx, String(v), s.getPixelForValue(v), 38, 'center'));
    });

    // depth labels
    ctx.font = 'bold 9px ' + SANS;
    DEPTH_TICKS.forEach(d => squeezedText(ctx, String(d), a.left - 5, y.getPixelForValue(d), 'right'));

    // rotated labels on the ΔA(%) track
    const dap = scales.xDAP;
    ctx.font = 'bold 8.5px ' + SANS;
    ctx.textAlign = 'right';
    DAP_TICKS.forEach(v => {
      ctx.save();
      ctx.translate(dap.getPixelForValue(v) + 2, 41);
      ctx.rotate(55 * Math.PI / 180);
      ctx.scale(SQUEEZE, 1);
      ctx.fillText(String(v), 0, 0);
      ctx.restore();
    });

    // subscript on the ΔS title
    const dsw = scales.xDsw;
    ctx.font = 'bold 10px ' + SANS;
    const wTitle = ctx.measureText('ΔS').width;
    ctx.font = 'bold 7px ' + SANS;
    ctx.textAlign = 'left';
    ctx.fillText('w', (dsw.left + dsw.right) / 2 + wTitle / 2 + 0.5, 29);

    // formation tops
    TOP_NAMES.forEach((name, i) => {
      const py = y.getPixelForValue(TOP_DEPTHS[i]);
      if (TOP_LINE_START[i] !== null) {
        ctx.strokeStyle = TOP_COLORS[i];
        ctx.lineWidth = 1.8;
        ctx.beginPath();
        ctx.moveTo(TOP_LINE_START[i], py);
        ctx.lineTo(chart.width, py);
        ctx.stroke();
      }
      ctx.fillStyle = TOP_COLORS[i];
      ctx.font = 'bold 11px ' + SANS;
      squeezedText(ctx, name, 11, py + 0.5, 'left', 0.72);
    });
    ctx.restore();
  }
};

new Chart(document.getElementById('logs'), {
  type: 'line',
  data: { datasets },
  plugins: [trackFrame],
  options: {
    responsive: false,
    animation: false,
    events: [],
    indexAxis: 'y',
    devicePixelRatio: 1,
    layout: { autoPadding: false, padding: { left: 0, right: 4, top: 0, bottom: 67 } },
    plugins: { legend: { display: false }, tooltip: { enabled: false } },
    scales: {
      y: {
        type: 'linear', position: 'left', reverse: true, min: DEPTH_MIN, max: DEPTH_MAX,
        afterFit: s => { s.width = 81; s.paddingTop = 0; s.paddingBottom = 0; },
        afterBuildTicks: s => { s.ticks = gridTicks(DEPTH_MIN, DEPTH_MAX, 2, DEPTH_TICKS); },
        grid: { drawTicks: false, color: c => isLabel(c.tick.value, DEPTH_TICKS) ? '#d3d3d3' : '#e8e8e8' },
        border: { display: false },
        ticks: { display: false, autoSkip: false },
        title: { display: true, text: 'Depth (m)', color: INK, font: { family: SANS, size: 9.5, weight: 'bold' },
                 padding: { top: 51, bottom: 0 } }
      },
      xPhi: trackAxis('xPhi', { width: 57, min: 0.05, max: 0.5, step: 0.05, labels: PHI_TICKS, title: 'ϕ', titleSize: 11, titleTop: 18 }),
      xSw: trackAxis('xSw', { width: 56, min: 0, max: 1, step: 0.1, labels: SW_TICKS, title: 'Sw', titleTop: 19 }),
      xVp: trackAxis('xVp', { width: 57, min: 1500, max: 6500, step: 500, labels: VP_TICKS, title: 'Vp (m/s)', titleTop: 19 }),
      xVs: trackAxis('xVs', { width: 56, min: 650, max: 3300, step: 250, labels: VS_TICKS, title: 'Vs (m/s)', titleTop: 19 }),
      xRho: trackAxis('xRho', { width: 56, min: 1.9, max: 3.0, step: 0.1, labels: RHO_TICKS, title: 'ρ (g/cc)', titleSize: 9, titleTop: 20 }),
      xDsw: trackAxis('xDsw', { width: 56, min: 0, max: 1, step: 0.1, labels: DSW_TICKS, title: 'ΔS', titleTop: 17 }),
      xIp: trackAxis('xIp', { width: 56, min: 0, max: 2, step: 0.25, labels: IP_TICKS, title: 'Ip (g/cc.m/s)10⁴', titleSize: 7, titleTop: 21 }),
      xDip: trackAxis('xDip', { width: 55, min: 0, max: 22, step: 2.5, labels: DIP_TICKS, title: 'ΔIp (g/cc.m/s) (%', titleSize: 7, titleTop: 21 }),
      xAmp: trackAxis('xAmp', { width: 110, min: -150, max: 150, step: 25, labels: AMP_TICKS, title: 'Amplitude', titleSize: 9, titleTop: 8 }),
      xAmpT: trackAxis('xAmpT', { width: 110, min: -150, max: 150, step: 25, labels: AMP_TICKS, title: 'Amplitude', titleSize: 9, titleTop: 8 }),
      xDA: trackAxis('xDA', { width: 112, min: -60, max: 70, step: 10, labels: DA_TICKS, title: 'ΔA', titleTop: 21 }),
      xDAP: trackAxis('xDAP', { width: 108, min: -150, max: 150, step: 25, labels: DAP_TICKS, title: 'ΔA(%)', titleSize: 9.5, titleTop: 9 })
    }
  }
});
</script>
</body>
</html>
